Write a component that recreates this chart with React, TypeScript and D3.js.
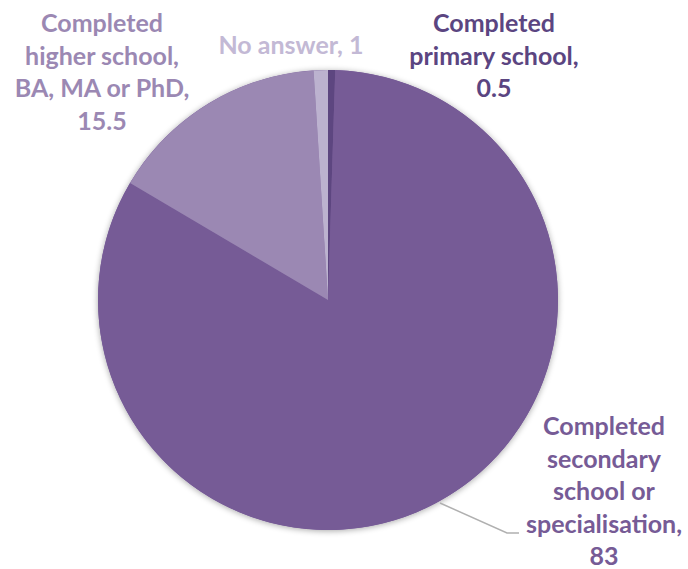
import React from "react";
import * as d3 from "d3";

const categories = [
  "Completed primary school",
  "Completed secondary school or specialisation",
  "Completed higher school, BA, MA or PhD",
  "No answer",
];
const values = [0.5, 83, 15.5, 1];
const sliceColors = ["#5d4680", "#765b96", "#9b88b3", "#bcb2cf"];
const labelColors = ["#5b4581", "#765b96", "#9b88b3", "#c3b9d5"];
const labelLines = [
  ["Completed", "primary school,", "0.5"],
  ["Completed", "secondary", "school or", "specialisation,", "83"],
  ["Completed", "higher school,", "BA, MA or PhD,", "15.5"],
  ["No answer, 1"],
];
const labelPos: [number, number][] = [
  [494, 22],
  [604, 425],
  [102, 22],
  [291, 44],
];

export default function App() {
  const W = 688, H = 569;
  const cx = 328, cy = 300, r = 230;
  const pie = d3.pie<number>().sort(null).value((d) => d);
  const arcs = pie(values);
  const arc = d3.arc<d3.PieArcDatum<number>>().innerRadius(0).outerRadius(r);
  const lh = 32.5;
  return (
    <svg width={W} height={H} style={{ position: "absolute", left: 0, top: 0 }}>
      <defs>
        <filter id="sh" x="-20%" y="-20%" width="140%" height="140%">
          <feGaussianBlur in="SourceAlpha" stdDeviation="3" />
          <feOffset dx="0" dy="1" result="b" />
          <feComponentTransfer>
            <feFuncA type="linear" slope="0.35" />
          </feComponentTransfer>
          <feMerge>
            <feMergeNode />
            <feMergeNode in="SourceGraphic" />
          </feMerge>
        </filter>
      </defs>
      <g transform={`translate(${cx},${cy})`}>
        <circle r={r} fill="#765b96" filter="url(#sh)" />
        {arcs.map((a, i) => (
          <path key={categories[i]} d={arc(a) || ""} fill={sliceColors[i]} />
        ))}
      </g>
      <polyline points="440,503 507,533 519,533" fill="none" stroke="#b0b0b0" strokeWidth={1.5} />
      {labelLines.map((lines, i) => (
        <text
          key={i}
          x={labelPos[i][0]}
          y={labelPos[i][1]}
          fill={labelColors[i]}
          fontFamily="Lato, 'Open Sans', sans-serif"
          fontWeight="bold"
          fontSize={25}
          textAnchor="middle"
          dominantBaseline="central"
        >
          {lines.map((l, j) => (
            <tspan key={j} x={labelPos[i][0]} y={labelPos[i][1] + j * lh}>
              {l}
            </tspan>
          ))}
        </text>
      ))}
    </svg>
  );
}
